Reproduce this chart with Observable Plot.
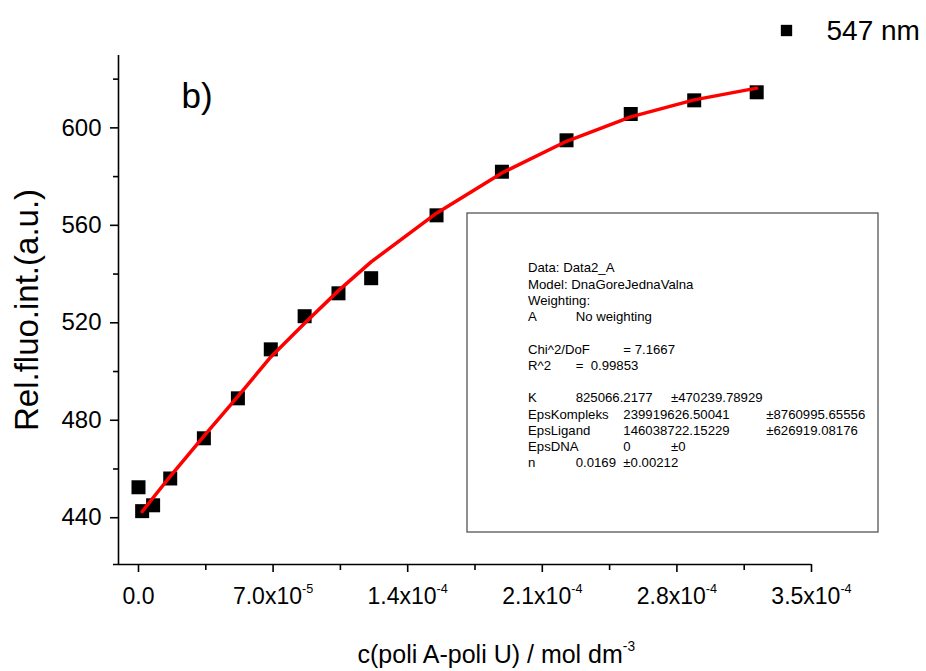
<!DOCTYPE html>
<html>
<head>
<meta charset="utf-8">
<script src="https://cdn.jsdelivr.net/npm/d3@7"></script>
<script src="https://cdn.jsdelivr.net/npm/@observablehq/plot@0.6"></script>
<style>
  html, body { margin: 0; padding: 0; background: #fff; }
  svg text { white-space: pre; }
</style>
</head>
<body>
<div id="chart"></div>
<script>
// Measured titration: concentration of poly A–poly U (mol dm^-3) vs relative fluorescence at 547 nm
const concentration = [0, 1.9e-6, 7.6e-6, 1.65e-5, 3.4e-5, 5.17e-5, 6.88e-5, 8.64e-5, 1.04e-4, 1.21e-4, 1.55e-4, 1.89e-4, 2.226e-4, 2.56e-4, 2.89e-4, 3.215e-4];
const intensity     = [452.5, 442.7, 445.1, 456.1, 472.6, 489.0, 509.1, 522.7, 532.1, 538.3, 564.1, 582.0, 594.9, 605.7, 611.3, 614.6];

// Fitted model curve (evaluated at the titration points)
const fitConcentration = [1.9e-6, 7.6e-6, 1.65e-5, 3.4e-5, 5.17e-5, 6.88e-5, 8.64e-5, 1.04e-4, 1.21e-4, 1.55e-4, 1.89e-4, 2.226e-4, 2.56e-4, 2.89e-4, 3.215e-4];
const fitIntensity     = [442.5, 448.2, 457.0, 473.5, 489.8, 506.0, 519.8, 533.2, 545.0, 565.0, 581.5, 594.5, 604.5, 611.5, 616.3];

// Axes
const xDomain = [-1.04e-5, 3.5e-4];
const yDomain = [420.8, 629.7];
const xTicks = [0, 7e-5, 1.4e-4, 2.1e-4, 2.8e-4, 3.5e-4];
const xTickLabels = ["0.0", "7.0x10^{-5}", "1.4x10^{-4}", "2.1x10^{-4}", "2.8x10^{-4}", "3.5x10^{-4}"];
const xMinorTicks = [3.5e-5, 1.05e-4, 1.75e-4, 2.45e-4, 3.15e-4];
const yTicks = [440, 480, 520, 560, 600];
const yMinorTicks = [460, 500, 540, 580, 620];

const xTitle = "c(poli A-poli U) / mol dm^{-3}";
const yTitle = "Rel.fluo.int.(a.u.)";
const panelLabel = "b)";
const seriesLabel = "547 nm";

// Fit report: each row is a list of [tab stop, text]
const reportRows = [
  [[0, "Data: Data2_A"]],
  [[0, "Model: DnaGoreJednaValna"]],
  [[0, "Weighting:"]],
  [[0, "A"], [1, "No weighting"]],
  [],
  [[0, "Chi^2/DoF"], [2, "= 7.1667"]],
  [[0, "R^2"], [1, "=  0.99853"]],
  [],
  [[0, "K"], [1, "825066.2177"], [3, "±470239.78929"]],
  [[0, "EpsKompleks"], [2, "239919626.50041"], [5, "±8760995.65556"]],
  [[0, "EpsLigand"], [2, "146038722.15229"], [5, "±626919.08176"]],
  [[0, "EpsDNA"], [2, "0"], [3, "±0"]],
  [[0, "n"], [1, "0.0169"], [2, "±0.00212"]]
];

const FONT = "'Liberation Sans', Arial, Helvetica, sans-serif";
const xLabelOf = new Map(xTicks.map((t, i) => [t, xTickLabels[i]]));

// Fit-report box, laid out relative to the plot frame
function reportBox(index, scales, values, dimensions) {
  const {marginLeft: ml, marginTop: mt} = dimensions;
  const box = {left: 349, top: 158, width: 411, height: 319};
  const textLeft = 410, firstBaseline = 217.4, lineHeight = 16.25, tab = 47.66;
  const g = d3.create("svg:g");
  g.append("rect")
    .attr("x", ml + box.left).attr("y", mt + box.top)
    .attr("width", box.width).attr("height", box.height)
    .attr("fill", "none").attr("stroke", "#555").attr("stroke-width", 1.3);
  const t = g.append("g")
    .attr("font-family", FONT).attr("font-size", 13.2)
    .attr("text-anchor", "start").attr("fill", "#000");
  reportRows.forEach((row, r) => {
    row.forEach(([col, str]) => {
      t.append("text")
        .attr("x", ml + textLeft + col * tab)
        .attr("y", mt + firstBaseline + r * lineHeight)
        .text(str);
    });
  });
  return g.node();
}

const chart = Plot.plot({
  width: 926,
  height: 671,
  marginLeft: 118,
  marginRight: 115,
  marginTop: 55,
  marginBottom: 107,
  style: {fontFamily: FONT, background: "#fff", color: "#000", overflow: "visible"},
  x: {domain: xDomain},
  y: {domain: yDomain},
  marks: [
    // axis lines
    Plot.ruleX([xDomain[0]], {stroke: "#000", strokeWidth: 1.6}),
    Plot.ruleY([yDomain[0]], {stroke: "#000", strokeWidth: 1.6, insetLeft: -5}),
    // major and minor ticks
    Plot.axisX(xTicks, {tickSize: 8, tickPadding: 15, strokeWidth: 1.6, fontSize: 23, label: null,
      tickFormat: d => xLabelOf.get(d)}),
    Plot.axisX(xMinorTicks, {tickSize: 6, strokeWidth: 1.6, tickFormat: () => "", label: null}),
    Plot.axisY(yTicks, {tickSize: 8, tickPadding: 9, strokeWidth: 1.6, fontSize: 24, label: null,
      tickFormat: d => String(d)}),
    Plot.axisY(yMinorTicks, {tickSize: 5, strokeWidth: 1.6, tickFormat: () => "", label: null}),
    // titles
    Plot.text([xTitle], {text: d => d, frameAnchor: "bottom-left", dx: 239, dy: 98,
      textAnchor: "start", lineAnchor: "bottom", fontSize: 25}),
    Plot.text([yTitle], {text: d => d, frameAnchor: "left", dx: -81, rotate: -90,
      textAnchor: "middle", lineAnchor: "bottom", fontSize: 33}),
    Plot.text([panelLabel], {text: d => d, frameAnchor: "top-left", dx: 63, dy: 52,
      textAnchor: "start", lineAnchor: "bottom", fontSize: 35}),
    // legend
    Plot.dot([seriesLabel], {frameAnchor: "top-right", dx: -25, dy: -25, symbol: "square",
      r: 6.4, fill: "#000", stroke: "none"}),
    Plot.text([seriesLabel], {text: d => d, frameAnchor: "top-right", dx: 15, dy: -16,
      textAnchor: "start", lineAnchor: "bottom", fontSize: 28}),
    // fit report
    reportBox,
    // measured points
    Plot.dot(concentration.map((c, i) => ({c, v: intensity[i]})), {
      x: "c", y: "v", symbol: "square", r: 7.9, fill: "#000", stroke: "none"
    }),
    // fitted curve
    Plot.line(fitConcentration.map((c, i) => ({c, v: fitIntensity[i]})), {
      x: "c", y: "v", stroke: "#ff0000", strokeWidth: 3.5, curve: "linear"
    })
  ]
});

// Render "^{...}" as a raised superscript
chart.querySelectorAll("text").forEach(node => {
  const s = node.textContent;
  const m = s.match(/^(.*)\^\{(.*)\}$/);
  if (!m) return;
  while (node.firstChild) node.removeChild(node.firstChild);
  node.appendChild(document.createTextNode(m[1]));
  const sup = document.createElementNS("http://www.w3.org/2000/svg", "tspan");
  sup.setAttribute("font-size", "0.55em");
  sup.setAttribute("dy", "-0.85em");
  sup.textContent = m[2];
  node.appendChild(sup);
});

document.getElementById("chart").appendChild(chart);
</script>
</body>
</html>
